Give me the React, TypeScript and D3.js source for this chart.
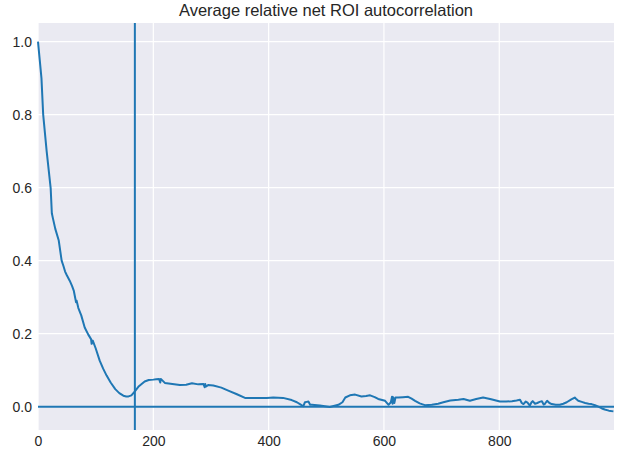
import React, { useEffect, useRef } from 'react';
import * as d3 from 'd3';

// lag values
const lags = [
  0, 3, 6, 9, 15, 22, 24, 26, 30, 36, 41, 44, 47, 50, 55, 59, 62, 66, 67, 70, 75, 81, 87, 92, 93, 95, 100,
  107, 113, 119, 126, 134, 141, 148, 153, 157, 162, 168, 175, 185, 192, 200, 205, 210, 212, 213, 220, 233,
  246, 257, 267, 278, 287, 289, 290, 291, 295, 304, 318, 330, 345, 359, 375, 397, 408, 425, 440, 449, 455,
  460, 463, 466, 469, 472, 475, 489, 506, 521, 528, 533, 541, 550, 561, 569, 576, 584, 590, 602, 608, 612,
  614, 615, 616, 618, 620, 625, 633, 642, 648, 654, 662, 671, 683, 694, 703, 715, 729, 738, 749, 760, 772,
  786, 801, 812, 822, 830, 836, 839, 842, 846, 849, 853, 856, 858, 862, 866, 870, 874, 877, 879, 881, 883,
  887, 891, 898, 905, 911, 917, 925, 931, 934, 937, 943, 949, 955, 960, 966, 972, 978, 983, 990, 998,
];

const acf = [
  1.0, 0.95, 0.9, 0.8, 0.7, 0.598, 0.53, 0.515, 0.487, 0.455, 0.4, 0.386, 0.37, 0.36, 0.345, 0.331, 0.318,
  0.286, 0.29, 0.27, 0.25, 0.217, 0.198, 0.185, 0.172, 0.181, 0.16, 0.126, 0.104, 0.085, 0.066, 0.048,
  0.037, 0.03, 0.028, 0.028, 0.031, 0.042, 0.056, 0.069, 0.073, 0.074, 0.075, 0.076, 0.066, 0.076, 0.065,
  0.062, 0.059, 0.06, 0.064, 0.061, 0.062, 0.053, 0.062, 0.055, 0.059, 0.058, 0.052, 0.044, 0.034, 0.024,
  0.024, 0.024, 0.025, 0.024, 0.018, 0.012, 0.006, 0.001, 0.012, 0.013, 0.014, 0.005, 0.005, 0.003,
  -0.001, 0.005, 0.012, 0.025, 0.031, 0.033, 0.028, 0.029, 0.031, 0.026, 0.021, 0.016, 0.005, 0.012,
  0.027, 0.008, 0.026, 0.01, 0.025, 0.025, 0.026, 0.027, 0.022, 0.016, 0.009, 0.004, 0.005, 0.008, 0.012,
  0.017, 0.019, 0.021, 0.016, 0.021, 0.025, 0.02, 0.014, 0.014, 0.015, 0.017, 0.019, 0.01, 0.007, 0.014,
  0.011, 0.003, 0.012, 0.015, 0.008, 0.01, 0.013, 0.015, 0.006, 0.007, 0.012, 0.016, 0.01, 0.007, 0.005,
  0.005, 0.008, 0.012, 0.02, 0.025, 0.02, 0.016, 0.013, 0.01, 0.008, 0.007, 0.004, 0.0, -0.005, -0.008,
  -0.011, -0.013,
];

const xTicks = [0, 200, 400, 600, 800];
const yTicks = [0.0, 0.2, 0.4, 0.6, 0.8, 1.0];
const cutoffLag = 168;
const title = 'Average relative net ROI autocorrelation';

const App = () => {
  const svgRef = useRef<SVGSVGElement>(null);

  useEffect(() => {
    const width = 624;
    const height = 452;
    const margin = { top: 23, right: 10, bottom: 22, left: 38 };
    const w = width - margin.left - margin.right;
    const h = height - margin.top - margin.bottom;

    const svg = d3.select(svgRef.current);
    svg.selectAll('*').remove();

    const chart = svg.append('g').attr('transform', `translate(${margin.left},${margin.top})`);

    const x = d3.scaleLinear().domain([0, 999]).range([0, w]);
    const y = d3.scaleLinear().domain([-0.064, 1.051]).range([h, 0]);

    chart.append('rect').attr('width', w).attr('height', h).attr('fill', '#eaeaf2');

    // grid
    chart
      .append('g')
      .selectAll('line')
      .data(xTicks)
      .enter()
      .append('line')
      .attr('x1', (d) => x(d))
      .attr('x2', (d) => x(d))
      .attr('y1', 0)
      .attr('y2', h)
      .attr('stroke', '#fff')
      .attr('stroke-width', 1.2);

    chart
      .append('g')
      .selectAll('line')
      .data(yTicks)
      .enter()
      .append('line')
      .attr('x1', 0)
      .attr('x2', w)
      .attr('y1', (d) => y(d))
      .attr('y2', (d) => y(d))
      .attr('stroke', '#fff')
      .attr('stroke-width', 1.2);

    const font = '"Liberation Sans", Arial, sans-serif';

    const xAxis = chart
      .append('g')
      .attr('transform', `translate(0,${h})`)
      .call(d3.axisBottom(x).tickValues(xTicks).tickSize(0).tickPadding(6).tickFormat(d3.format('d')));
    xAxis.select('.domain').remove();
    xAxis.selectAll('text').attr('fill', '#262626').style('font-family', font).style('font-size', '14px');

    const yAxis = chart
      .append('g')
      .call(d3.axisLeft(y).tickValues(yTicks).tickSize(0).tickPadding(6).tickFormat(d3.format('.1f')));
    yAxis.select('.domain').remove();
    yAxis.selectAll('text').attr('fill', '#262626').style('font-family', font).style('font-size', '14px');

    const data = lags.map((lag, i) => ({ lag, v: acf[i] }));
    const line = d3
      .line<{ lag: number; v: number }>()
      .x((d) => x(d.lag))
      .y((d) => y(d.v));

    const marks = chart.append('g');

    marks
      .append('path')
      .datum(data)
      .attr('fill', 'none')
      .attr('stroke', '#1f77b4')
      .attr('stroke-width', 2)
      .attr('stroke-linejoin', 'round')
      .attr('d', line);

    marks
      .append('line')
      .attr('x1', x(cutoffLag))
      .attr('x2', x(cutoffLag))
      .attr('y1', 0)
      .attr('y2', h)
      .attr('stroke', '#1f77b4')
      .attr('stroke-width', 2);

    marks
      .append('line')
      .attr('x1', 0)
      .attr('x2', w)
      .attr('y1', y(0))
      .attr('y2', y(0))
      .attr('stroke', '#1f77b4')
      .attr('stroke-width', 2);

    svg
      .append('text')
      .attr('x', margin.left + w / 2)
      .attr('y', 16)
      .attr('text-anchor', 'middle')
      .attr('fill', '#262626')
      .style('font-family', font)
      .style('font-size', '16.5px')
      .text(title);
  }, []);

  return (
    <svg
      ref={svgRef}
      width={624}
      height={452}
      style={{ position: 'absolute', left: 0, top: 0, background: '#fff' }}
    ></svg>
  );
};

export default App;
